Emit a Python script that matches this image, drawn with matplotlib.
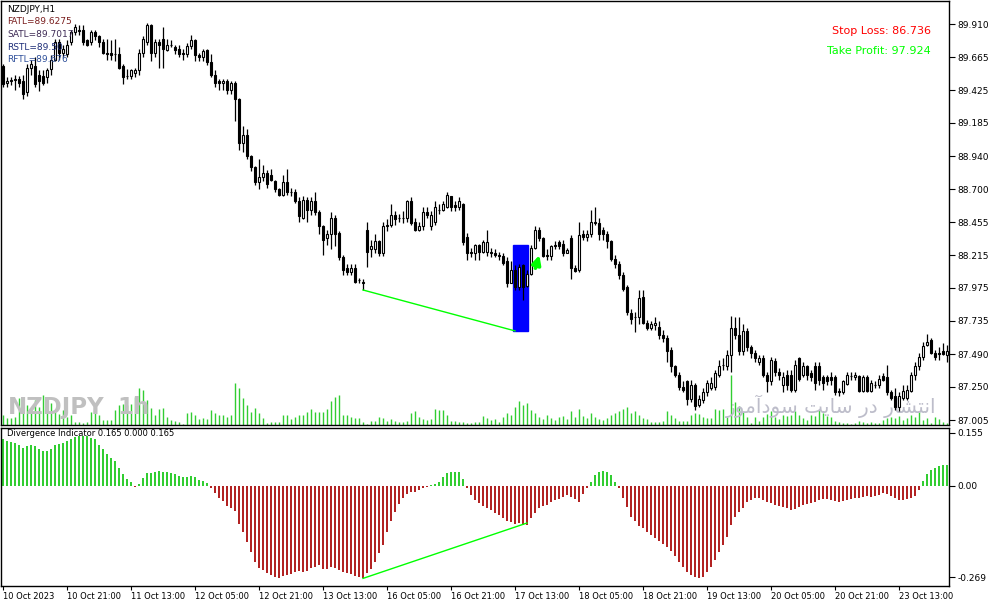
import numpy as np
import matplotlib
matplotlib.use("Agg")
import matplotlib.pyplot as plt
from matplotlib.patches import Rectangle
from matplotlib import font_manager

# NZDJPY H1 candles, 10 Oct 2023 -> 23 Oct 2023
opens = [
    89.60, 89.48, 89.49, 89.50, 89.51, 89.49, 89.41, 89.59, 89.60, 89.54,
    89.53, 89.52, 89.58, 89.65, 89.78, 89.70, 89.69, 89.78, 89.85, 89.87,
    89.87, 89.79, 89.78, 89.85, 89.82, 89.78, 89.70, 89.70, 89.69, 89.69,
    89.60, 89.53, 89.53, 89.55, 89.57, 89.70, 89.78, 89.90, 89.70, 89.78,
    89.80, 89.72, 89.76, 89.74, 89.73, 89.70, 89.69, 89.75, 89.79, 89.68,
    89.67, 89.72, 89.63, 89.54, 89.49, 89.48, 89.49, 89.43, 89.48, 89.36,
    89.04, 89.10, 88.94, 88.86, 88.75, 88.79, 88.82, 88.80, 88.76, 88.70,
    88.66, 88.75, 88.68, 88.68, 88.61, 88.49, 88.62, 88.55, 88.61, 88.53,
    88.43, 88.34, 88.37, 88.49, 88.38, 88.20, 88.12, 88.09, 88.12, 88.03,
    88.02, 88.40, 88.26, 88.26, 88.32, 88.23, 88.43, 88.44, 88.51, 88.49,
    88.49, 88.49, 88.61, 88.46, 88.40, 88.43, 88.53, 88.43, 88.46, 88.55,
    88.55, 88.57, 88.65, 88.58, 88.57, 88.59, 88.35, 88.24, 88.23, 88.29,
    88.24, 88.24, 88.24, 88.23, 88.22, 88.21, 88.17, 88.01, 88.11, 87.98,
    88.14, 87.99, 88.08, 88.27, 88.40, 88.34, 88.22, 88.21, 88.29, 88.31,
    88.30, 88.23, 88.34, 88.12, 88.11, 88.37, 88.35, 88.37, 88.46, 88.45,
    88.40, 88.37, 88.32, 88.19, 88.15, 88.07, 87.98, 87.79, 87.76, 87.76,
    87.91, 87.72, 87.68, 87.70, 87.69, 87.63, 87.61, 87.52, 87.40, 87.34,
    87.25, 87.29, 87.16, 87.26, 87.12, 87.15, 87.21, 87.24, 87.25, 87.34,
    87.41, 87.40, 87.48, 87.68, 87.63, 87.51, 87.66, 87.54, 87.50, 87.43,
    87.46, 87.34, 87.29, 87.44, 87.36, 87.26, 87.34, 87.34, 87.23, 87.46,
    87.34, 87.40, 87.35, 87.40, 87.40, 87.32, 87.32, 87.32, 87.32, 87.22,
    87.21, 87.27, 87.33, 87.32, 87.33, 87.22, 87.32, 87.22, 87.26, 87.26,
    87.33, 87.32, 87.21, 87.18, 87.10, 87.17, 87.17, 87.22, 87.34, 87.40,
    87.47, 87.56, 87.59, 87.50, 87.50, 87.51, 87.48,
]
closes = [
    89.47, 89.49, 89.50, 89.51, 89.48, 89.40, 89.59, 89.62, 89.47, 89.49,
    89.48, 89.57, 89.65, 89.78, 89.70, 89.73, 89.76, 89.85, 89.89, 89.86,
    89.78, 89.76, 89.85, 89.82, 89.78, 89.70, 89.69, 89.68, 89.69, 89.59,
    89.52, 89.53, 89.57, 89.57, 89.70, 89.80, 89.90, 89.70, 89.78, 89.76,
    89.73, 89.76, 89.76, 89.72, 89.69, 89.69, 89.75, 89.79, 89.68, 89.67,
    89.71, 89.63, 89.54, 89.48, 89.48, 89.49, 89.43, 89.48, 89.36, 89.04,
    89.10, 88.94, 88.86, 88.75, 88.79, 88.82, 88.74, 88.77, 88.70, 88.66,
    88.75, 88.68, 88.68, 88.61, 88.50, 88.62, 88.55, 88.61, 88.53, 88.43,
    88.33, 88.37, 88.49, 88.37, 88.20, 88.11, 88.09, 88.12, 88.02, 88.03,
    88.01, 88.24, 88.28, 88.32, 88.23, 88.43, 88.44, 88.51, 88.48, 88.49,
    88.49, 88.61, 88.45, 88.40, 88.43, 88.53, 88.51, 88.51, 88.57, 88.55,
    88.59, 88.66, 88.57, 88.57, 88.61, 88.31, 88.23, 88.23, 88.29, 88.24,
    88.31, 88.31, 88.23, 88.22, 88.21, 88.16, 88.01, 88.11, 87.98, 88.13,
    87.98, 88.08, 88.27, 88.40, 88.34, 88.21, 88.21, 88.28, 88.28, 88.28,
    88.23, 88.25, 88.12, 88.10, 88.36, 88.35, 88.37, 88.46, 88.45, 88.37,
    88.37, 88.32, 88.19, 88.15, 88.07, 87.97, 87.80, 87.75, 87.76, 87.90,
    87.72, 87.68, 87.71, 87.72, 87.63, 87.61, 87.51, 87.40, 87.34, 87.25,
    87.23, 87.16, 87.26, 87.11, 87.16, 87.21, 87.28, 87.28, 87.35, 87.40,
    87.41, 87.48, 87.68, 87.63, 87.51, 87.66, 87.54, 87.50, 87.46, 87.46,
    87.34, 87.29, 87.45, 87.36, 87.34, 87.32, 87.26, 87.23, 87.41, 87.31,
    87.40, 87.34, 87.32, 87.28, 87.30, 87.28, 87.29, 87.30, 87.21, 87.21,
    87.29, 87.34, 87.33, 87.34, 87.22, 87.32, 87.22, 87.28, 87.26, 87.31,
    87.30, 87.21, 87.17, 87.10, 87.18, 87.22, 87.23, 87.34, 87.40, 87.47,
    87.55, 87.58, 87.50, 87.47, 87.49, 87.49, 87.51,
]
highs = [
    89.62, 89.52, 89.52, 89.54, 89.53, 89.54, 89.62, 89.65, 89.67, 89.57,
    89.57, 89.59, 89.68, 89.80, 89.80, 89.76, 89.79, 89.87, 89.91, 89.90,
    89.90, 89.80, 89.87, 89.87, 89.83, 89.80, 89.80, 89.79, 89.80, 89.74,
    89.62, 89.58, 89.58, 89.59, 89.73, 89.82, 89.92, 89.91, 89.80, 89.80,
    89.89, 89.80, 89.79, 89.76, 89.76, 89.73, 89.77, 89.83, 89.80, 89.70,
    89.73, 89.73, 89.69, 89.57, 89.51, 89.51, 89.51, 89.49, 89.49, 89.37,
    89.16, 89.14, 88.95, 88.87, 88.92, 88.88, 88.84, 88.85, 88.77, 88.71,
    88.80, 88.85, 88.71, 88.70, 88.64, 88.65, 88.64, 88.64, 88.68, 88.55,
    88.44, 88.40, 88.53, 88.51, 88.39, 88.22, 88.15, 88.15, 88.15, 88.05,
    88.04, 88.46, 88.33, 88.37, 88.33, 88.46, 88.48, 88.59, 88.54, 88.52,
    88.54, 88.62, 88.64, 88.49, 88.46, 88.57, 88.57, 88.54, 88.61, 88.59,
    88.61, 88.68, 88.65, 88.61, 88.64, 88.60, 88.38, 88.27, 88.30, 88.30,
    88.33, 88.40, 88.27, 88.26, 88.24, 88.23, 88.20, 88.17, 88.14, 88.15,
    88.15, 88.11, 88.29, 88.43, 88.42, 88.35, 88.26, 88.29, 88.32, 88.33,
    88.33, 88.27, 88.36, 88.14, 88.46, 88.40, 88.40, 88.55, 88.57, 88.49,
    88.42, 88.39, 88.33, 88.22, 88.17, 88.09, 88.00, 87.82, 87.80, 87.96,
    87.96, 87.74, 87.73, 87.76, 87.73, 87.67, 87.63, 87.54, 87.41, 87.36,
    87.29, 87.30, 87.30, 87.28, 87.19, 87.24, 87.30, 87.32, 87.37, 87.45,
    87.46, 87.52, 87.77, 87.76, 87.76, 87.71, 87.68, 87.56, 87.52, 87.48,
    87.48, 87.36, 87.47, 87.46, 87.39, 87.36, 87.37, 87.37, 87.45, 87.47,
    87.43, 87.41, 87.37, 87.43, 87.43, 87.34, 87.34, 87.36, 87.34, 87.24,
    87.30, 87.36, 87.36, 87.36, 87.34, 87.34, 87.34, 87.30, 87.29, 87.34,
    87.35, 87.41, 87.23, 87.24, 87.21, 87.26, 87.26, 87.36, 87.43, 87.50,
    87.58, 87.64, 87.61, 87.52, 87.54, 87.57, 87.56,
]
lows = [
    89.45, 89.45, 89.46, 89.43, 89.45, 89.36, 89.38, 89.54, 89.45, 89.42,
    89.46, 89.48, 89.54, 89.64, 89.65, 89.67, 89.67, 89.76, 89.83, 89.83,
    89.76, 89.75, 89.76, 89.79, 89.74, 89.69, 89.65, 89.65, 89.64, 89.58,
    89.47, 89.51, 89.51, 89.52, 89.54, 89.67, 89.76, 89.64, 89.67, 89.59,
    89.59, 89.71, 89.74, 89.69, 89.67, 89.65, 89.67, 89.73, 89.64, 89.64,
    89.64, 89.61, 89.52, 89.45, 89.43, 89.43, 89.40, 89.40, 89.20, 88.99,
    88.97, 88.92, 88.83, 88.73, 88.70, 88.76, 88.71, 88.76, 88.68, 88.65,
    88.65, 88.66, 88.65, 88.60, 88.46, 88.48, 88.46, 88.51, 88.51, 88.37,
    88.22, 88.29, 88.26, 88.28, 88.18, 88.07, 88.07, 88.07, 88.01, 88.01,
    87.96, 88.13, 88.20, 88.23, 88.21, 88.21, 88.39, 88.42, 88.44, 88.46,
    88.45, 88.46, 88.44, 88.39, 88.39, 88.40, 88.49, 88.40, 88.44, 88.52,
    88.54, 88.56, 88.54, 88.54, 88.55, 88.29, 88.18, 88.20, 88.18, 88.18,
    88.23, 88.21, 88.20, 88.20, 88.18, 88.14, 87.98, 88.01, 87.96, 87.96,
    87.89, 87.98, 88.07, 88.26, 88.32, 88.20, 88.18, 88.18, 88.26, 88.26,
    88.21, 88.23, 88.04, 88.09, 88.09, 88.33, 88.32, 88.35, 88.44, 88.33,
    88.33, 88.27, 88.17, 88.12, 88.04, 87.95, 87.78, 87.71, 87.65, 87.71,
    87.71, 87.67, 87.67, 87.67, 87.60, 87.58, 87.43, 87.36, 87.32, 87.23,
    87.21, 87.12, 87.14, 87.08, 87.10, 87.13, 87.18, 87.23, 87.23, 87.32,
    87.37, 87.37, 87.36, 87.60, 87.48, 87.48, 87.51, 87.46, 87.43, 87.41,
    87.32, 87.21, 87.26, 87.33, 87.30, 87.21, 87.23, 87.21, 87.21, 87.29,
    87.32, 87.30, 87.29, 87.23, 87.26, 87.23, 87.26, 87.26, 87.19, 87.18,
    87.20, 87.26, 87.30, 87.30, 87.21, 87.21, 87.21, 87.21, 87.24, 87.24,
    87.29, 87.19, 87.15, 87.08, 87.07, 87.15, 87.15, 87.21, 87.30, 87.37,
    87.45, 87.55, 87.49, 87.45, 87.45, 87.48, 87.43,
]
volumes = [
    280, 200, 200, 230, 800, 730, 600, 480, 730, 530,
    880, 780, 650, 380, 330, 430, 230, 280, 80, 100,
    60, 80, 380, 380, 280, 160, 160, 160, 430, 580,
    630, 600, 630, 830, 1100, 1030, 730, 500, 300, 460,
    500, 230, 160, 130, 100, 30, 360, 380, 280, 180,
    200, 180, 430, 360, 300, 280, 230, 280, 1230, 1080,
    800, 580, 380, 500, 360, 200, 50, 100, 100, 100,
    300, 300, 180, 230, 280, 280, 380, 480, 380, 380,
    380, 460, 700, 830, 880, 300, 280, 230, 200, 200,
    80, 30, 130, 130, 230, 200, 130, 180, 130, 100,
    80, 130, 360, 400, 230, 180, 160, 180, 460, 430,
    430, 280, 130, 130, 80, 100, 50, 60, 100, 80,
    250, 200, 160, 180, 80, 240, 360, 300, 540, 720,
    600, 660, 450, 360, 240, 180, 300, 210, 150, 240,
    270, 180, 420, 240, 480, 270, 210, 360, 240, 180,
    150, 210, 300, 360, 420, 480, 540, 360, 420, 300,
    200, 180, 80, 100, 100, 130, 400, 280, 200, 130,
    130, 130, 280, 360, 330, 230, 200, 200, 460, 430,
    480, 230, 1470, 690, 570, 380, 230, 60, 230, 130,
    230, 330, 420, 230, 180, 280, 260, 300, 400, 280,
    200, 150, 300, 270, 430, 350, 250, 230, 130, 100,
    50, 50, 30, 50, 130, 100, 70, 100, 50, 70,
    150, 200, 230, 200, 250, 150, 200, 300, 230, 370,
    150, 200, 70, 230, 170, 100, 70,
]
divergence = [
    0.136, 0.131, 0.129, 0.126, 0.119, 0.110, 0.116, 0.119, 0.116, 0.107,
    0.102, 0.102, 0.107, 0.119, 0.123, 0.126, 0.131, 0.136, 0.143, 0.146,
    0.146, 0.146, 0.141, 0.136, 0.119, 0.107, 0.092, 0.082, 0.072, 0.052,
    0.033, 0.020, 0.011, -0.003, 0.006, 0.022, 0.036, 0.036, 0.039, 0.043,
    0.041, 0.041, 0.036, 0.033, 0.028, 0.024, 0.026, 0.029, 0.024, 0.017,
    0.015, 0.007, -0.008, -0.023, -0.035, -0.045, -0.059, -0.065, -0.075, -0.114,
    -0.135, -0.165, -0.194, -0.224, -0.241, -0.248, -0.258, -0.263, -0.268, -0.273,
    -0.266, -0.263, -0.259, -0.255, -0.251, -0.255, -0.251, -0.243, -0.238, -0.233,
    -0.245, -0.245, -0.238, -0.243, -0.248, -0.255, -0.258, -0.261, -0.265, -0.268,
    -0.273, -0.258, -0.245, -0.224, -0.199, -0.175, -0.135, -0.104, -0.078, -0.055,
    -0.037, -0.024, -0.020, -0.018, -0.013, -0.008, -0.003, 0.003, 0.004, 0.012,
    0.024, 0.036, 0.039, 0.039, 0.041, 0.020, -0.008, -0.027, -0.042, -0.052,
    -0.059, -0.067, -0.072, -0.081, -0.086, -0.096, -0.104, -0.106, -0.113, -0.110,
    -0.116, -0.116, -0.094, -0.080, -0.067, -0.061, -0.056, -0.049, -0.043, -0.038,
    -0.032, -0.027, -0.032, -0.038, -0.047, -0.025, -0.008, 0.010, 0.030, 0.040,
    0.042, 0.040, 0.030, 0.012, -0.008, -0.037, -0.062, -0.091, -0.104, -0.118,
    -0.126, -0.135, -0.145, -0.153, -0.163, -0.173, -0.182, -0.192, -0.206, -0.224,
    -0.238, -0.255, -0.263, -0.268, -0.273, -0.268, -0.253, -0.238, -0.219, -0.194,
    -0.175, -0.150, -0.116, -0.091, -0.077, -0.067, -0.049, -0.042, -0.037, -0.037,
    -0.042, -0.047, -0.052, -0.057, -0.059, -0.062, -0.067, -0.072, -0.069, -0.062,
    -0.057, -0.055, -0.052, -0.047, -0.042, -0.039, -0.039, -0.042, -0.045, -0.049,
    -0.045, -0.042, -0.039, -0.037, -0.035, -0.032, -0.029, -0.032, -0.029, -0.027,
    -0.023, -0.026, -0.029, -0.035, -0.042, -0.042, -0.039, -0.035, -0.029, -0.013,
    0.015, 0.035, 0.045, 0.053, 0.057, 0.060, 0.062,
]

date_labels = ["10 Oct 2023", "10 Oct 21:00", "11 Oct 13:00", "12 Oct 05:00",
               "12 Oct 21:00", "13 Oct 13:00", "16 Oct 05:00", "16 Oct 21:00",
               "17 Oct 13:00", "18 Oct 05:00", "18 Oct 21:00", "19 Oct 13:00",
               "20 Oct 05:00", "20 Oct 21:00", "23 Oct 13:00"]
price_ticks = [89.910, 89.665, 89.425, 89.185, 88.940, 88.700, 88.455,
               88.215, 87.975, 87.735, 87.490, 87.250, 87.005]
ind_ticks = [0.155, 0.0, -0.269]
ind_tick_labels = ["0.155", "0.00", "-0.269"]

# divergence marks and signal box
div_bars = [90, 128]
div_prices = [87.96, 87.66]
div_ind_bars = [90, 131]
div_ind_vals = [-0.273, -0.110]
box_bars = (128.0, 131.75)
box_prices = (87.66, 88.29)

legend_lines = [("NZDJPY,H1", "black"), ("FATL=89.6275", "#7a1f1f"),
                ("SATL=89.7017", "#3d2a55"), ("RSTL=89.50", "#1d2d78"),
                ("RFTL=89.676", "#2e4f9a")]

W, H = 991, 605
def box(l, t, r, b):
    return [l / W, 1 - b / H, (r - l) / W, (b - t) / H]

# narrow face for the big symbol watermark if the system has one
names = {f.name for f in font_manager.fontManager.ttflist}
wm_family = "Liberation Sans Narrow" if "Liberation Sans Narrow" in names else "DejaVu Sans"
wm_size = 19 if wm_family == "Liberation Sans Narrow" else 16.5

o = np.array(opens); c = np.array(closes)
hi = np.maximum(np.array(highs), np.maximum(o, c))
lo = np.minimum(np.array(lows), np.minimum(o, c))
x = np.arange(len(o))
xlim = (-0.5, len(o) - 0.5)

fig = plt.figure(figsize=(W / 100, H / 100), dpi=100)

# volume + watermarks sit behind the candles
vol_ax = fig.add_axes(box(1, 1, 949, 425))
vol_ax.vlines(x, 0, volumes, color="#32CD32", lw=1, zorder=2)
vol_ax.set_xlim(xlim)
vol_ax.set_ylim(0, 1470 * 424 / 50)
vol_ax.axis("off")
vol_ax.text(7 / 948, 0.026, "NZDJPY", transform=vol_ax.transAxes, fontsize=wm_size,
            fontweight="bold", color="#c0c0c0", family=wm_family, zorder=3)
vol_ax.text(116 / 948, 0.026, "1h", transform=vol_ax.transAxes, fontsize=wm_size,
            fontweight="bold", color="#c0c0c0", family=wm_family, zorder=3)
fa_text = "\uFEAF\uFEEE\uFEE3\uFE81\uFEA9\uFEEE\uFEB3 \uFE96\uFEF3\uFE8E\uFEB3 \uFEAD\uFEA9 \uFEAD\uFE8E\uFEB8\uFE98\uFEE7\uFE8D"
vol_ax.text(935 / 948, 0.028, fa_text, transform=vol_ax.transAxes, ha="right",
            fontsize=14.5, color="#bdbdca", family="DejaVu Sans", zorder=3)

ax = fig.add_axes(box(1, 1, 949, 425), facecolor="none")
ax.set_xlim(xlim)
ax.set_ylim(86.970, 90.079)

ax.add_patch(Rectangle((box_bars[0] - 0.5, box_prices[0]), box_bars[1] - box_bars[0],
                       box_prices[1] - box_prices[0], color="#0000FF", zorder=1))

ax.vlines(x, lo, hi, color="black", lw=0.9, zorder=2)
up = c >= o
ax.bar(x[up], (c - o)[up], bottom=o[up], width=0.6, color="white",
       edgecolor="black", linewidth=0.8, zorder=3)
ax.bar(x[~up], (o - c)[~up], bottom=c[~up], width=0.6, color="black",
       edgecolor="black", linewidth=0.8, zorder=3)

ax.plot(div_bars, div_prices, color="#00FF00", lw=1, zorder=4)
ax.annotate("", xy=(134.3, 88.235), xytext=(132.9, 88.10),
            arrowprops=dict(arrowstyle="-|>", color="#00FF00", lw=2.6,
                            mutation_scale=13), zorder=5)

ax.yaxis.tick_right()
ax.set_yticks(price_ticks)
ax.set_yticklabels([f"{p:.3f}" for p in price_ticks])
ax.tick_params(axis="y", direction="out", length=4, width=0.8, labelsize=6.5, pad=2)
ax.set_xticks([])
for s in ax.spines.values():
    s.set_color("black")
    s.set_linewidth(1)

ax.text(930 / 948, 1 - 30 / 424, "Stop Loss: 86.736", transform=ax.transAxes,
        ha="right", va="center", fontsize=8, color="#FF0000")
ax.text(930 / 948, 1 - 50 / 424, "Take Profit: 97.924", transform=ax.transAxes,
        ha="right", va="center", fontsize=8, color="#00FF00")
for k, (txt, col) in enumerate(legend_lines):
    ax.text(6 / 948, 1 - (8 + 12.7 * k) / 424, txt, transform=ax.transAxes,
            ha="left", va="center", fontsize=6.5, color=col, zorder=6)

# divergence indicator pane
ind = fig.add_axes(box(1, 428, 949, 586))
vals = np.array(divergence)
cols = np.where(vals >= 0, "#32CD32", "#B22222")
ind.bar(x, vals, width=0.72, color=cols)
ind.plot(div_ind_bars, div_ind_vals, color="#00FF00", lw=1)
ind.set_xlim(xlim)
ind.set_ylim(-0.2954, 0.1697)
ind.yaxis.tick_right()
ind.set_yticks(ind_ticks)
ind.set_yticklabels(ind_tick_labels)
ind.tick_params(axis="y", direction="out", length=4, width=0.8, labelsize=6.5, pad=2)
ind.set_xticks(np.arange(len(date_labels)) * 16)
ind.set_xticklabels(date_labels)
ind.tick_params(axis="x", direction="out", length=3, width=0.8, labelsize=6, pad=1)
for lab in ind.get_xticklabels():
    lab.set_ha("left")
for s in ind.spines.values():
    s.set_color("black")
    s.set_linewidth(1)
ind.text(6 / 948, 1 - 6 / 158, "Divergence Indicator 0.165 0.000 0.165",
         transform=ind.transAxes, ha="left", va="center", fontsize=6, color="black")

fig.savefig("out.png", dpi=100)
